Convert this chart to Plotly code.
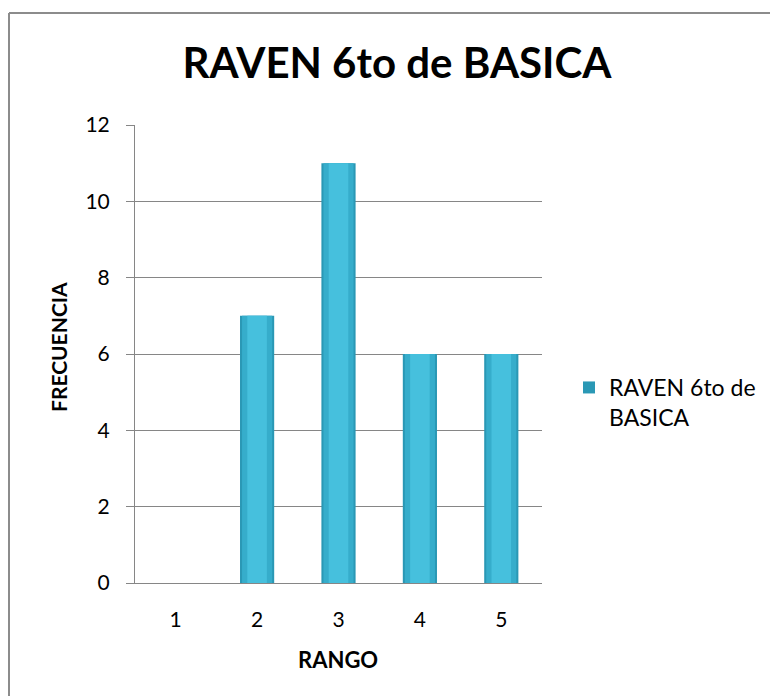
import plotly.graph_objects as go

categories = ["1", "2", "3", "4", "5"]
values = [0, 7, 11, 6, 6]
series_name = "RAVEN 6to de<br>BASICA"
title_text = "RAVEN 6to de BASICA"
y_ticks = [0, 2, 4, 6, 8, 10, 12]

FONT = "Lato"
W, H = 770, 696
L, R, T, B = 135, 228, 125, 113
pw, ph = W - L - R, H - T - B

def px_x(x):
    return (x - L) / pw

def px_y(y):
    return (H - B - y) / ph

fig = go.Figure()
# layered bars to imitate the cylinder-like shading
layers = [(0.42, "#2a98b5", True), (0.37, "#36adcb", False), (0.24, "#46c0dd", False)]
for w, c, show in layers:
    fig.add_trace(go.Bar(
        x=categories, y=values, width=w, name=series_name,
        marker=dict(color=c, line=dict(width=0)),
        showlegend=show, hoverinfo="skip" if not show else None,
    ))

fig.update_layout(
    width=W, height=H,
    margin=dict(l=L, r=R, t=T, b=B, autoexpand=False),
    paper_bgcolor="white", plot_bgcolor="white",
    barmode="overlay",
    font=dict(family=FONT, size=21, color="black"),
    title=dict(text="<b>" + title_text + "</b>", font=dict(size=42, family=FONT, color="black"),
               x=397 / W, xanchor="center", xref="container",
               y=1 - 63 / H, yanchor="middle", yref="container"),
    showlegend=True,
    legend=dict(x=px_x(569), y=px_y(366), xanchor="left", yanchor="top",
                font=dict(size=23, family=FONT), valign="top",
                bgcolor="rgba(0,0,0,0)", tracegroupgap=0),
    xaxis=dict(type="category", showgrid=False, showline=True, linecolor="#868686",
               linewidth=1, ticks="", ticklabelstandoff=18,
               tickfont=dict(size=21)),
    yaxis=dict(range=[0, 12], tickvals=y_ticks, showgrid=True, gridcolor="#868686",
               gridwidth=1, showline=True, linecolor="#868686", linewidth=1,
               ticks="outside", ticklen=8, tickcolor="#868686",
               ticklabelstandoff=12, tickfont=dict(size=21), zeroline=False),
    annotations=[
        dict(text="<b>FRECUENCIA</b>", xref="paper", yref="paper",
             x=px_x(58), y=px_y(347), textangle=-90, showarrow=False,
             font=dict(size=21, family=FONT), xanchor="center", yanchor="middle"),
        dict(text="<b>RANGO</b>", xref="paper", yref="paper",
             x=px_x(338), y=px_y(659), showarrow=False,
             font=dict(size=22, family=FONT), xanchor="center", yanchor="middle"),
    ],
    shapes=[
        dict(type="line", xref="paper", yref="paper", x0=px_x(9), x1=px_x(800),
             y0=px_y(13), y1=px_y(13), line=dict(color="#8c8c8c", width=2)),
        dict(type="line", xref="paper", yref="paper", x0=px_x(9), x1=px_x(9),
             y0=px_y(13), y1=px_y(720), line=dict(color="#8c8c8c", width=2)),
    ],
)

fig.write_html("out.html")
